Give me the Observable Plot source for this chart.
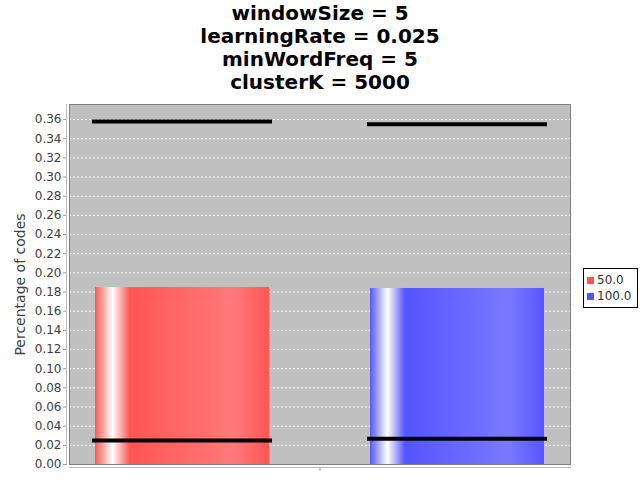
<!DOCTYPE html>
<html><head><meta charset="utf-8">
<script src="https://cdn.jsdelivr.net/npm/d3@7"></script>
<script src="https://cdn.jsdelivr.net/npm/@observablehq/plot@0.6"></script>
<style>
body{margin:0;background:#fff;}
#wrap{position:relative;width:640px;height:480px;overflow:hidden;font-family:"DejaVu Sans",sans-serif;}
#chart{position:absolute;left:0;top:0;}
#title{position:absolute;top:2px;left:0;width:640px;text-align:center;font-weight:bold;font-size:20px;line-height:23px;color:#000;}
#legend{position:absolute;left:583px;top:268px;width:55px;height:40px;border:1px solid #000;background:#fff;box-sizing:border-box;font-size:12px;color:#333;padding-top:3px;}
#legend .row{height:16px;line-height:16px;white-space:nowrap;}
#legend .sw{display:inline-block;width:7px;height:7px;margin-left:3px;margin-right:3px;vertical-align:0px;}
</style></head><body>
<div id="wrap"><div id="chart"></div><div id="title"></div><div id="legend"></div></div>
<script>
const titleLines = ["windowSize = 5", "learningRate = 0.025", "minWordFreq = 5", "clusterK = 5000"];
const categories = [""];
const seriesNames = ["50.0", "100.0"];
const means = [0.1847, 0.1837];
const lows = [0.025, 0.027];
const highs = [0.358, 0.355];
const yTicks = [0, 0.02, 0.04, 0.06, 0.08, 0.10, 0.12, 0.14, 0.16, 0.18, 0.20, 0.22, 0.24, 0.26, 0.28, 0.30, 0.32, 0.34, 0.36];
const yLabel = "Percentage of codes";

const baseColors = ["#FF5555", "#5555FF"];
const brightColors = ["#FF7979", "#7979FF"];

const data = seriesNames.map((s, i) => ({category: categories[0], series: s, value: means[i], lo: lows[i], hi: highs[i], idx: i}));

const svg = Plot.plot({
  width: 640, height: 480,
  marginTop: 104, marginBottom: 16, marginLeft: 69, marginRight: 70,
  style: {fontFamily: "DejaVu Sans, sans-serif", fontSize: "12px", background: "transparent", overflow: "visible"},
  fx: {domain: categories, padding: 0, axis: null, label: null},
  x: {domain: seriesNames, paddingInner: 0.3455, paddingOuter: 0.0836, axis: null},
  y: {domain: [0, 0.3757], axis: null},
  color: {type: "identity"},
  marks: [
    Plot.frame({fill: "#c0c0c0", stroke: "none"}),
    Plot.gridY(yTicks, {stroke: "#ffffff", strokeOpacity: 1, strokeDasharray: "2,2", strokeWidth: 1}),
    Plot.barY(data, {fx: "category", x: "series", y: "value", fill: d => `url(#grad${d.idx})`, insetLeft: 3, insetRight: 3}),
    Plot.tickY(data, {fx: "category", x: "series", y: "lo", stroke: "#000", strokeWidth: 4}),
    Plot.tickY(data, {fx: "category", x: "series", y: "hi", stroke: "#000", strokeWidth: 4}),
    Plot.frame({stroke: "#808080", strokeWidth: 1}),
    Plot.frame({anchor: "left", dx: -3, stroke: "#b8b8b8"}),
    Plot.frame({anchor: "bottom", dy: 3, stroke: "#b8b8b8"}),
    Plot.axisY(yTicks, {tickSize: 3, dx: -3, tickPadding: 2, tickFormat: d3.format(".2f"), label: null, fill: "#404040", stroke: "#a0a0a0", fontSize: 12}),
    Plot.axisFx({anchor: "bottom", tickSize: 3, dy: 4, tickFormat: () => "", label: null, stroke: "#a0a0a0"}),
    Plot.text([yLabel], {frameAnchor: "left", textAnchor: "middle", rotate: -90, dx: -49, fontSize: 14, fill: "#404040"})
  ]
});

const defs = d3.select(svg).insert("defs", ":first-child");
baseColors.forEach((c, i) => {
  const g = defs.append("linearGradient").attr("id", `grad${i}`).attr("x1", "0").attr("x2", "1").attr("y1", "0").attr("y2", "0");
  [[0, c], [0.10, "#ffffff"], [0.20, c], [0.80, brightColors[i]], [1, c]].forEach(([o, col]) => g.append("stop").attr("offset", o).attr("stop-color", col));
});
document.getElementById("chart").appendChild(svg);

document.getElementById("title").innerHTML = titleLines.map(t => `<div>${t}</div>`).join("");
document.getElementById("legend").innerHTML = seriesNames.map((s, i) => `<div class="row"><span class="sw" style="background:${baseColors[i]}"></span>${s}</div>`).join("");
</script>
</body></html>
